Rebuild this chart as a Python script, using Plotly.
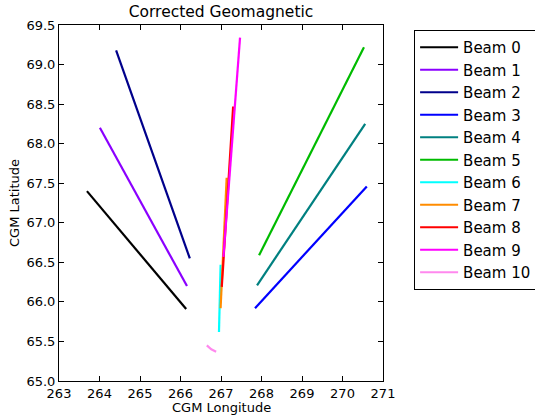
import plotly.graph_objects as go

beam_names = ["Beam 0", "Beam 1", "Beam 2", "Beam 3", "Beam 4", "Beam 5",
              "Beam 6", "Beam 7", "Beam 8", "Beam 9", "Beam 10"]
beam_colors = ["#000000", "#8B00FF", "#00008B", "#0000FF", "#008080", "#00BB00",
               "#00FFFF", "#FF8C00", "#FF0000", "#FF00FF", "#FF88EE"]

beam_lon = [
    [263.69, 266.14],
    [264.01, 266.16],
    [264.41, 266.23],
    [267.84, 270.60],
    [267.89, 270.56],
    [267.94, 270.53],
    [266.95, 266.99],
    [266.99, 267.14],
    [267.02, 267.30],
    [267.06, 267.47],
    [266.65, 266.76, 266.88],
]
beam_lat = [
    [67.40, 65.91],
    [68.20, 66.20],
    [69.18, 66.55],
    [65.92, 67.46],
    [66.21, 68.25],
    [66.59, 69.22],
    [65.62, 66.47],
    [65.92, 67.57],
    [66.19, 68.47],
    [66.57, 69.34],
    [65.45, 65.40, 65.37],
]

x_ticks = [263, 264, 265, 266, 267, 268, 269, 270, 271]
y_ticks = [65.0, 65.5, 66.0, 66.5, 67.0, 67.5, 68.0, 68.5, 69.0, 69.5]

fig = go.Figure()
for i, name in enumerate(beam_names):
    fig.add_trace(go.Scatter(
        x=beam_lon[i], y=beam_lat[i], mode="lines", name=name,
        legendgroup=name,
        line=dict(color=beam_colors[i], width=2.2),
    ))

font = "DejaVu Sans"
axis_common = dict(
    showgrid=False, zeroline=False, showline=True, linecolor="black",
    linewidth=1, mirror="allticks", ticks="inside", ticklen=5,
    tickcolor="black", tickfont=dict(family=font, size=13, color="black"),
    automargin=False,
)
fig.update_layout(
    width=535, height=418,
    margin=dict(l=59, r=152, t=25, b=37, autoexpand=False),
    paper_bgcolor="white", plot_bgcolor="white",
    title=dict(text="Corrected Geomagnetic", x=0.5, xanchor="center",
               xref="paper", y=0.985, yanchor="top",
               font=dict(family=font, size=15.5, color="black")),
    xaxis=dict(range=[263, 271], tickvals=x_ticks,
               ticktext=[str(v) for v in x_ticks], **axis_common),
    yaxis=dict(range=[65.0, 69.5], tickvals=y_ticks,
               ticktext=[f"{v:.1f}" for v in y_ticks], **axis_common),
    legend=dict(x=1.096, y=0.986, xanchor="left", yanchor="top",
                bordercolor="black", borderwidth=1, bgcolor="white",
                tracegroupgap=0, itemwidth=38,
                font=dict(family=font, size=15, color="black")),
    showlegend=True,
    annotations=[
        dict(text="CGM Longitude", xref="paper", yref="paper",
             x=0.5, y=-0.0758, xanchor="center", yanchor="middle",
             showarrow=False, font=dict(family=font, size=13, color="black")),
        dict(text="CGM Latitude", xref="paper", yref="paper",
             x=-0.139, y=0.5, xanchor="center", yanchor="middle",
             textangle=-90, showarrow=False,
             font=dict(family=font, size=13, color="black")),
    ],
)

fig.write_html("out.html",
               config={"displayModeBar": False},
               post_script="document.body.style.margin='0';"
                           "document.body.style.overflow='hidden';")
